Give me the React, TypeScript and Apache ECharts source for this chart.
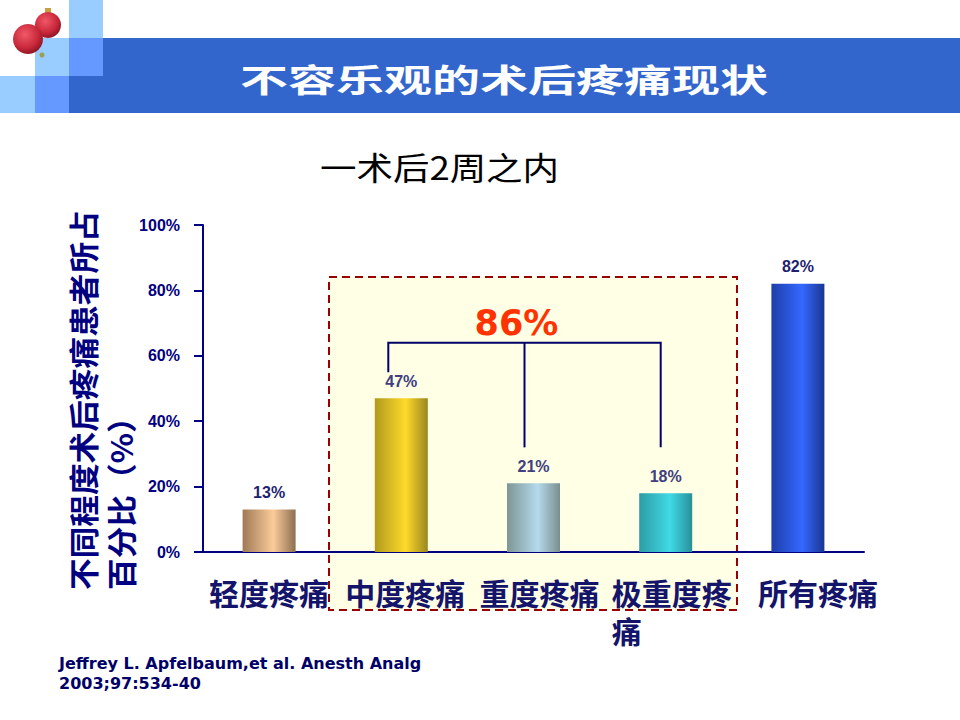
import React, { useEffect, useRef } from "react";
import * as echarts from "echarts";

// ---- data ----
const categories = ["轻度疼痛", "中度疼痛", "重度疼痛", "极重度疼\n痛\u3000\u3000\u3000", "所有疼痛"];
const values = [13, 47, 21, 18, 82];
const yTickValues = [0, 20, 40, 60, 80, 100];
const groupTotal = 86; // 中度 + 重度 + 极重度
const bracketCats = [1, 2, 3];
const bracketTopValue = 64;
const bracketLegEnds = [55, 32, 32];

const titleText = "不容乐观的术后疼痛现状";
const subtitleText = "一术后2周之内";
const yTitleText = "不同程度术后疼痛患者所占\n百分比（%）";
const citationText = "Jeffrey L. Apfelbaum,et al. Anesth Analg\n2003;97:534-40";

// ---- styles ----
const barColors = [
  ["#9E7A56", "#FCCB9A", "#8C6E50"],
  ["#B09A1C", "#FFDA2A", "#9A8620"],
  ["#7E9696", "#B4DAEC", "#7A8E8E"],
  ["#2C9CA4", "#40DAE6", "#28909A"],
  ["#1E3EA8", "#3468FF", "#1A3690"],
];
const labelColors = ["#1F1F70", "#404080", "#404080", "#404080", "#1F1F70"];
const labelShift = [0, 8, 12, 12, 40];
const NAVY = "#000080";

function grad(c: string[]) {
  return {
    type: "linear",
    x: 0,
    y: 0,
    x2: 1,
    y2: 0,
    colorStops: [
      { offset: 0, color: c[0] },
      { offset: 0.58, color: c[1] },
      { offset: 1, color: c[2] },
    ],
  };
}

function ball(cx: number, cy: number, r: number) {
  return {
    type: "circle",
    shape: { cx, cy, r },
    style: {
      fill: {
        type: "radial",
        x: 0.4,
        y: 0.35,
        r: 0.75,
        colorStops: [
          { offset: 0, color: "#F05868" },
          { offset: 0.6, color: "#C8283A" },
          { offset: 1, color: "#7A0E1C" },
        ],
      },
    },
    z: 5,
  };
}

export default function App() {
  const ref = useRef<HTMLDivElement>(null);

  useEffect(() => {
    if (!ref.current) return;
    const chart = echarts.init(ref.current, undefined, { renderer: "svg" });

    chart.setOption({
      animation: false,
      backgroundColor: "#FFFFFF",
      grid: {
        left: 203,
        right: 96,
        top: 225,
        bottom: 168,
        containLabel: false,
        outerBoundsMode: "none",
      },
      xAxis: {
        type: "category",
        data: categories.map((c, i) => ({
          value: c,
          textStyle: { padding: [0, 0, 0, labelShift[i]] },
        })),
        z: 3,
        axisLine: { lineStyle: { color: NAVY, width: 2 } },
        axisTick: { inside: true, length: 7, lineStyle: { color: NAVY, width: 2 } },
        axisLabel: {
          interval: 0,
          color: "#14146A",
          fontSize: 30,
          fontWeight: "bold",
          fontFamily: '"Noto Sans CJK SC"',
          margin: 21,
          lineHeight: 38,
        },
      },
      yAxis: {
        type: "value",
        min: yTickValues[0],
        max: yTickValues[yTickValues.length - 1],
        interval: yTickValues[1] - yTickValues[0],
        z: 3,
        axisLine: { show: true, lineStyle: { color: NAVY, width: 2 } },
        axisTick: { show: true, length: 9, lineStyle: { color: NAVY, width: 2 } },
        splitLine: { show: false },
        axisLabel: {
          formatter: "{value}%",
          color: NAVY,
          fontWeight: "bold",
          fontSize: 16,
          fontFamily: '"Liberation Sans", Arial, sans-serif',
          margin: 23,
        },
      },
      series: [
        {
          type: "bar",
          barWidth: 53,
          z: 4,
          data: values.map((v, i) => ({
            value: v,
            itemStyle: { color: grad(barColors[i]) },
            label: { color: labelColors[i] },
          })),
          label: {
            show: true,
            position: "top",
            distance: 9,
            formatter: "{c}%",
            fontWeight: "bold",
            fontSize: 16,
            fontFamily: '"Liberation Sans", Arial, sans-serif',
          },
        },
      ],
    });

    const px = (ci: number, v: number) =>
      chart.convertToPixel({ gridIndex: 0 }, [ci, v]) as number[];
    const legShift = [-13, -9, -5];
    const top = bracketCats.map((c, i) => {
      const p = px(c, bracketTopValue);
      return [p[0] + legShift[i], p[1]];
    });
    const ends = bracketCats.map((c, i) => {
      const p = px(c, bracketLegEnds[i]);
      return [p[0] + legShift[i], p[1]];
    });
    const totalPos = px(2, 70);

    const graphics: any[] = [
      // decorative squares & banner
      { type: "rect", shape: { x: 69, y: 38, width: 891, height: 75 }, style: { fill: "#3366CC" }, z: 1 },
      { type: "rect", shape: { x: 69, y: 0, width: 34, height: 38 }, style: { fill: "#99CCFF" }, z: 1 },
      { type: "rect", shape: { x: 35, y: 38, width: 34, height: 38 }, style: { fill: "#99CCFF" }, z: 1 },
      { type: "rect", shape: { x: 69, y: 38, width: 34, height: 38 }, style: { fill: "#6699FF" }, z: 1 },
      { type: "rect", shape: { x: 0, y: 76, width: 35, height: 37 }, style: { fill: "#99CCFF" }, z: 1 },
      { type: "rect", shape: { x: 35, y: 76, width: 34, height: 37 }, style: { fill: "#6699FF" }, z: 1 },
      // ornaments
      { type: "rect", shape: { x: 45, y: 8, width: 6, height: 5 }, style: { fill: "#C8A040" }, z: 5 },
      ball(48, 25, 13),
      ball(28, 39, 15),
      { type: "circle", shape: { cx: 42, cy: 55, r: 2.5 }, style: { fill: "#9AA050" }, z: 5 },
      // title
      {
        type: "text",
        x: 504,
        y: 78,
        scaleX: 1.5,
        z: 5,
        style: {
          text: titleText,
          fill: "#FFFFFF",
          font: 'bold 32px "Noto Sans CJK SC"',
          textAlign: "center",
          textVerticalAlign: "middle",
          align: "center",
          verticalAlign: "middle",
        },
      },
      // subtitle
      {
        type: "text",
        x: 320,
        y: 166,
        scaleX: 1.14,
        z: 5,
        style: {
          text: subtitleText,
          fill: "#000000",
          font: '32px "Noto Sans CJK SC"',
          textAlign: "left",
          textVerticalAlign: "middle",
          align: "left",
          verticalAlign: "middle",
        },
      },
      // y-axis title
      {
        type: "text",
        x: 101,
        y: 590,
        rotation: Math.PI / 2,
        scaleX: 1.055,
        z: 5,
        style: {
          text: yTitleText,
          fill: NAVY,
          font: 'bold 30px "Noto Sans CJK SC"',
          lineHeight: 38,
          textAlign: "left",
          textVerticalAlign: "middle",
          align: "left",
          verticalAlign: "middle",
        },
      },
      // dashed highlight box
      {
        type: "rect",
        shape: { x: 329, y: 277, width: 408, height: 333 },
        style: { fill: "#FFFFE6", stroke: "#990000", lineWidth: 2, lineDash: [8, 5] },
        z: -1,
      },
      // bracket
      {
        type: "polyline",
        shape: { points: [ends[0], top[0], top[2], ends[2]] },
        style: { stroke: "#000066", lineWidth: 2, fill: null },
        z: 6,
      },
      {
        type: "line",
        shape: { x1: top[1][0], y1: top[1][1], x2: ends[1][0], y2: ends[1][1] },
        style: { stroke: "#000066", lineWidth: 2 },
        z: 6,
      },
      {
        type: "text",
        x: totalPos[0] - 17,
        y: totalPos[1],
        z: 6,
        style: {
          text: groupTotal + "%",
          fill: "#FF3300",
          font: 'bold 35px "DejaVu Sans"',
          textAlign: "center",
          textVerticalAlign: "middle",
          align: "center",
          verticalAlign: "middle",
        },
      },
      // citation
      {
        type: "text",
        x: 59,
        y: 673,
        z: 5,
        style: {
          text: citationText,
          fill: "#000066",
          font: 'bold 16px "DejaVu Sans"',
          lineHeight: 20,
          textAlign: "left",
          textVerticalAlign: "middle",
          align: "left",
          verticalAlign: "middle",
        },
      },
    ];

    chart.setOption({ graphic: { elements: graphics } });

    return () => chart.dispose();
  }, []);

  return (
    <div
      ref={ref}
      style={{ position: "absolute", left: 0, top: 0, width: 960, height: 720 }}
    />
  );
}
